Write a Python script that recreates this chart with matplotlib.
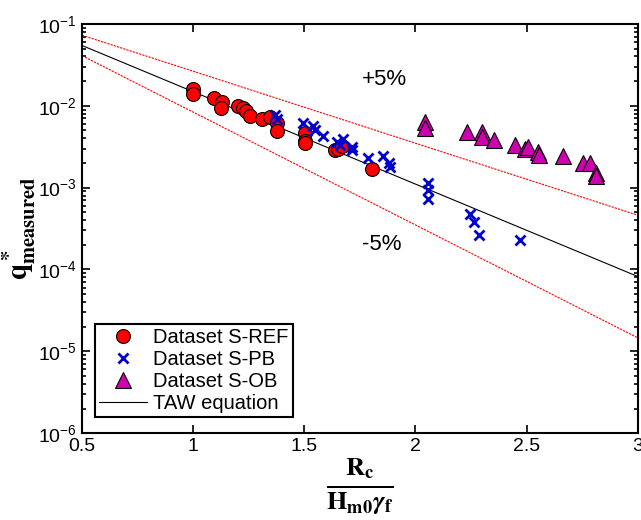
import matplotlib
matplotlib.use("Agg")
import matplotlib.pyplot as plt
import numpy as np

plt.rcParams["font.family"] = ["Liberation Sans", "DejaVu Sans"]
plt.rcParams["mathtext.fontset"] = "stix"

# Dataset S-REF (red circles)
ref_x = [1.0, 1.0, 1.095, 1.128, 1.125, 1.203, 1.225, 1.236, 1.255, 1.308,
         1.345, 1.375, 1.375, 1.503, 1.503, 1.503, 1.638, 1.652, 1.668, 1.803]
ref_y = [0.0160, 0.0139, 0.0124, 0.0112, 0.0095, 0.0100, 0.0093, 0.0086,
         0.0076, 0.0068, 0.0072, 0.0061, 0.0049, 0.0046, 0.0037, 0.0035,
         0.0029, 0.0030, 0.0032, 0.0017]

# Dataset S-PB (blue crosses)
pb_x = [1.368, 1.375, 1.495, 1.54, 1.548, 1.585, 1.645, 1.675, 1.66, 1.713,
        1.715, 1.787, 1.855, 1.882, 1.885, 2.057, 2.057, 2.057, 2.245, 2.263,
        2.287, 2.469]
pb_y = [0.0077, 0.0068, 0.0061, 0.0056, 0.0050, 0.0043, 0.0036, 0.0039,
        0.0033, 0.0029, 0.0031, 0.0023, 0.0024, 0.0020, 0.0018, 0.00115,
        0.00093, 0.00072, 0.000475, 0.000383, 0.000263, 0.000229]

# Dataset S-OB (magenta triangles)
ob_x = [2.042, 2.042, 2.23, 2.297, 2.301, 2.353, 2.447, 2.492, 2.507, 2.552,
        2.556, 2.664, 2.754, 2.787, 2.811, 2.811]
ob_y = [0.0063, 0.0053, 0.0048, 0.0048, 0.0042, 0.0038, 0.0033, 0.0030,
        0.0031, 0.0027, 0.0025, 0.0024, 0.0020, 0.0020, 0.0015, 0.0014]

# TAW equation and +/-5% bounds, end points (straight in log scale)
line_x = [0.5, 3.0]
taw_y = [0.0545, 8.2e-5]
upper_y = [0.0727, 4.6e-4]
lower_y = [0.0409, 1.46e-5]

fig = plt.figure(figsize=(6.41, 5.2), dpi=100)
ax = fig.add_axes([0.128, 0.167, 0.867, 0.787])

ax.plot(line_x, upper_y, color="r", lw=0.8, ls=(0, (2, 1)))
ax.plot(line_x, lower_y, color="r", lw=0.8, ls=(0, (2, 1)))
taw, = ax.plot(line_x, taw_y, color="k", lw=0.8, label="TAW equation")

ref = ax.plot(ref_x, ref_y, "o", ms=10, mfc="#ff0000", mec="k", mew=0.8,
              label="Dataset S-REF")[0]
pb = ax.plot(pb_x, pb_y, "x", ms=7.5, mec="#0000cc", mew=2,
             label="Dataset S-PB")[0]
ob = ax.plot(ob_x, ob_y, "^", ms=11, mfc="#d000b0", mec="k", mew=0.8,
             label="Dataset S-OB")[0]

ax.set_yscale("log")
ax.set_xlim(0.5, 3)
ax.set_ylim(1e-6, 1e-1)
ax.set_xticks([0.5, 1, 1.5, 2, 2.5, 3])
ax.set_xticklabels(["0.5", "1", "1.5", "2", "2.5", "3"])
ax.tick_params(which="both", direction="in", top=True, right=True,
               labelsize=14, width=1.2)
ax.tick_params(which="major", length=6)
ax.tick_params(which="minor", length=3)
for s in ax.spines.values():
    s.set_linewidth(1.5)

ax.text(1.86, 0.0207, "+5%", fontsize=16, ha="center", va="center")
ax.text(1.85, 2.0e-4, "-5%", fontsize=16, ha="center", va="center")

ax.set_ylabel(r"$\mathbf{q^*_{measured}}$", fontsize=21, labelpad=0)
ax.set_xlabel(r"$\frac{\mathbf{R_c}}{\mathbf{H_{m0}}\boldsymbol{\gamma}_\mathbf{f}}$",
              fontsize=27, labelpad=0)

leg = ax.legend(handles=[ref, pb, ob, taw], loc="lower left",
                bbox_to_anchor=(0.012, 0.025), fontsize=14.5, fancybox=False,
                edgecolor="k", framealpha=1, handlelength=2.4,
                borderpad=0.2, labelspacing=0.15, handletextpad=0.3,
                borderaxespad=0.3)
leg.get_frame().set_linewidth(1.5)

fig.savefig("out.png", dpi=100)
